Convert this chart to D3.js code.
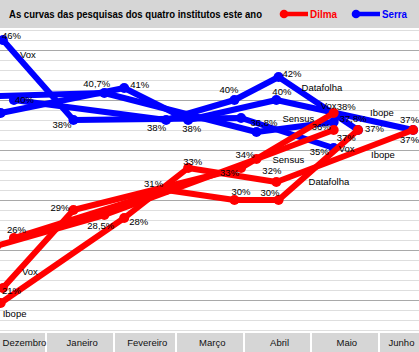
<!DOCTYPE html>
<html>
<head>
<meta charset="utf-8">
<script src="https://cdn.jsdelivr.net/npm/d3@7"></script>
<style>
	html, body { margin: 0; padding: 0; background: #fff; }
	svg { display: block; font-family: "Liberation Sans", Arial, sans-serif; }
</style>
</head>
<body>
<svg id="chart" width="419" height="352"></svg>
<script>
/*global d3 */
// month band along the bottom
var months = ['Dezembro', 'Janeiro', 'Fevereiro', 'Março', 'Abril', 'Maio', 'Junho'];
var monthStarts = ['2009-12-01', '2010-01-01', '2010-02-01', '2010-03-01', '2010-04-01', '2010-05-01', '2010-06-01', '2010-07-01'];

// poll dates and results per institute
var datafolhaDates = ['2009-12-17', '2010-02-24', '2010-03-27', '2010-04-16', '2010-05-22'];
var datafolhaSerra = [40, 38, 40, 42.3, 37];
var datafolhaDilma = [26.2, 31, 30, 30, 37];

var ibopeDates = ['2009-12-11', '2010-02-05', '2010-03-06', '2010-04-15', '2010-06-16'];
var ibopeSerra = [38.7, 41.2, 38, 40, 37];
var ibopeDilma = [19.7, 28.2, 33.2, 31.8, 37];

var sensusDates = ['2009-12-09', '2010-01-27', '2010-04-06', '2010-05-11'];
var sensusSerra = [40.4, 40.7, 36.8, 37.8];
var sensusDilma = [25.4, 28.5, 34.1, 37];

var voxDates = ['2009-12-12', '2010-01-13', '2010-03-30', '2010-05-11'];
var voxSerra = [46, 38, 38.2, 35.2];
var voxDilma = [21.2, 29, 33.2, 38.7];

// labels: text, institute, point index, offset x, offset y
var serraLabels = [
	['46%', 'vox', 0, -1, -1], ['Vox', 'vox', 0, 17, 18], ['40%', 'datafolha', 0, 1, 3],
	['38%', 'vox', 1, -21, 8], ['40,7%', 'sensus', 1, -21, -6], ['41%', 'ibope', 1, 6, 0],
	['38%', 'datafolha', 1, -19, 11], ['38%', 'ibope', 2, -6, 12], ['40%', 'datafolha', 2, -15, -7],
	['42%', 'datafolha', 3, 4, 0], ['40%', 'ibope', 3, -4, -5], ['Datafolha', 'datafolha', 3, 23, 14],
	['36,8%', 'sensus', 2, -6, -6], ['Sensus', 'sensus', 2, 26, -10], ['37,8%', 'sensus', 3, 6, 0],
	['37%', 'datafolha', 4, 7, 2], ['35%', 'vox', 3, -24, 7], ['Vox', 'vox', 3, 5, 4],
	['Ibope', 'ibope', 4, -43, -14], ['37%', 'ibope', 4, -13, -7]
];
var dilmaLabels = [
	['26%', 'datafolha', 0, -7, -5], ['Vox', 'vox', 0, 19, -13], ['21%', 'vox', 0, -1, 6],
	['Ibope', 'ibope', 0, 2, 14], ['29%', 'vox', 1, -23, 1], ['28,5%', 'sensus', 1, -17, 14],
	['28%', 'ibope', 1, 5, 7], ['31%', 'datafolha', 1, -22, -3], ['33%', 'ibope', 2, -5, -3],
	['33%', 'vox', 2, -21, 8], ['34%', 'sensus', 2, -21, -1], ['30%', 'datafolha', 2, -3, -5],
	['32%', 'ibope', 3, -14, -8], ['30%', 'datafolha', 3, -18, -4], ['Sensus', 'sensus', 2, 16, 4],
	['Datafolha', 'datafolha', 3, 30, -15], ['Vox', 'vox', 3, -13, -4], ['38%', 'vox', 3, 3, -3],
	['36%', 'sensus', 3, -22, 0], ['37%', 'sensus', 3, 3, 11], ['Ibope', 'ibope', 4, -42, 28],
	['37%', 'ibope', 4, -13, 13]
];

(function () {
	'use strict';
	var svg, width = 419, height = 352,
		parse, x, y, line, candidates, pointOf, byInst,
		drawGrid, drawMonths, drawHeader, drawSeries, drawLabels;

	parse = d3.timeParse('%Y-%m-%d');
	x = d3.scaleTime().domain([parse('2010-01-01'), parse('2010-06-01')]).range([47, 380]);
	y = d3.scaleLinear().domain([40, 30]).range([100, 200]);
	line = d3.line().x(function (d) { return x(d.date); }).y(function (d) { return y(d.value); });

	// join dates and values for each institute
	byInst = function (dates, values) {
		return dates.map(function (d, i) { return { date: parse(d), value: values[i] }; });
	};
	candidates = [
		{ name: 'Serra', color: '#0000ff', labels: serraLabels, series: {
			datafolha: byInst(datafolhaDates, datafolhaSerra),
			ibope: byInst(ibopeDates, ibopeSerra),
			sensus: byInst(sensusDates, sensusSerra),
			vox: byInst(voxDates, voxSerra)
		} },
		{ name: 'Dilma', color: '#ff0000', labels: dilmaLabels, series: {
			datafolha: byInst(datafolhaDates, datafolhaDilma),
			ibope: byInst(ibopeDates, ibopeDilma),
			sensus: byInst(sensusDates, sensusDilma),
			vox: byInst(voxDates, voxDilma)
		} }
	];

	svg = d3.select('#chart');

	drawGrid = function () {
		svg.append('g').selectAll('line')
			.data(d3.range(17, 48))
			.enter().append('line')
			.attr('x1', 0).attr('x2', width)
			.attr('y1', function (d) { return Math.round(y(d)) + 0.5; })
			.attr('y2', function (d) { return Math.round(y(d)) + 0.5; })
			.attr('stroke', function (d) { return d % 5 === 0 ? '#a9a9a9' : '#dedede'; })
			.attr('shape-rendering', 'crispEdges');
	};

	drawMonths = function () {
		var g = svg.append('g'), bands;
		bands = months.map(function (m, i) {
			var x0 = Math.max(0, x(parse(monthStarts[i]))),
				x1 = Math.min(width, x(parse(monthStarts[i + 1])) - 2);
			return { name: m, x0: x0, x1: x1 };
		});
		g.selectAll('rect').data(bands).enter().append('rect')
			.attr('x', function (d) { return Math.round(d.x0); })
			.attr('width', function (d) { return Math.round(d.x1) - Math.round(d.x0); })
			.attr('y', 333).attr('height', height - 333)
			.attr('fill', '#d6d6d6');
		g.selectAll('text').data(bands).enter().append('text')
			.attr('x', function (d) { return (d.x0 + d.x1) / 2 + 2; })
			.attr('y', 346)
			.attr('text-anchor', 'middle')
			.attr('font-size', 9.5)
			.attr('fill', '#111')
			.text(function (d) { return d.name; });
	};

	drawHeader = function () {
		var g = svg.append('g');
		g.append('rect').attr('x', 0).attr('y', 0).attr('width', width).attr('height', 28).attr('fill', '#d6d6d6');
		g.append('text')
			.attr('x', 9).attr('y', 18)
			.attr('font-size', 11).attr('font-weight', 'bold')
			.attr('textLength', 253).attr('lengthAdjust', 'spacingAndGlyphs')
			.text('As curvas das pesquisas dos quatro institutos este ano');

		// legend
		[{ c: candidates[1], x: 280, w: 27 }, { c: candidates[0], x: 352, w: 25 }].forEach(function (item) {
			g.append('line')
				.attr('x1', item.x + 3).attr('x2', item.x + 28)
				.attr('y1', 14).attr('y2', 14)
				.attr('stroke', item.c.color).attr('stroke-width', 4.5);
			g.append('circle')
				.attr('cx', item.x + 4).attr('cy', 14).attr('r', 4.3)
				.attr('fill', item.c.color);
			g.append('text')
				.attr('x', item.x + 30).attr('y', 18)
				.attr('font-size', 11).attr('font-weight', 'bold')
				.attr('textLength', item.w).attr('lengthAdjust', 'spacingAndGlyphs')
				.attr('fill', item.c.color)
				.text(item.c.name);
		});
	};

	drawSeries = function (cand) {
		var g = svg.append('g'), keys = Object.keys(cand.series);
		keys.forEach(function (k) {
			g.append('path')
				.datum(cand.series[k])
				.attr('d', line)
				.attr('fill', 'none')
				.attr('stroke', cand.color)
				.attr('stroke-width', 6)
				.attr('stroke-linejoin', 'round')
				.attr('stroke-linecap', 'round');
			g.selectAll('circle.' + k)
				.data(cand.series[k])
				.enter().append('circle')
				.attr('class', k)
				.attr('cx', function (d) { return x(d.date); })
				.attr('cy', function (d) { return y(d.value); })
				.attr('r', 5)
				.attr('fill', cand.color);
		});
	};

	pointOf = function (cand, lab) {
		var d = cand.series[lab[1]][lab[2]];
		return [x(d.date) + lab[3], y(d.value) + lab[4]];
	};

	drawLabels = function (cand) {
		svg.append('g').selectAll('text')
			.data(cand.labels)
			.enter().append('text')
			.attr('x', function (d) { return pointOf(cand, d)[0]; })
			.attr('y', function (d) { return pointOf(cand, d)[1]; })
			.attr('font-size', 9.5)
			.attr('fill', '#000')
			.text(function (d) { return d[0]; });
	};

	drawGrid();
	drawMonths();
	drawSeries(candidates[0]);
	drawSeries(candidates[1]);
	drawHeader();
	drawLabels(candidates[0]);
	drawLabels(candidates[1]);
}());
</script>
</body>
</html>
